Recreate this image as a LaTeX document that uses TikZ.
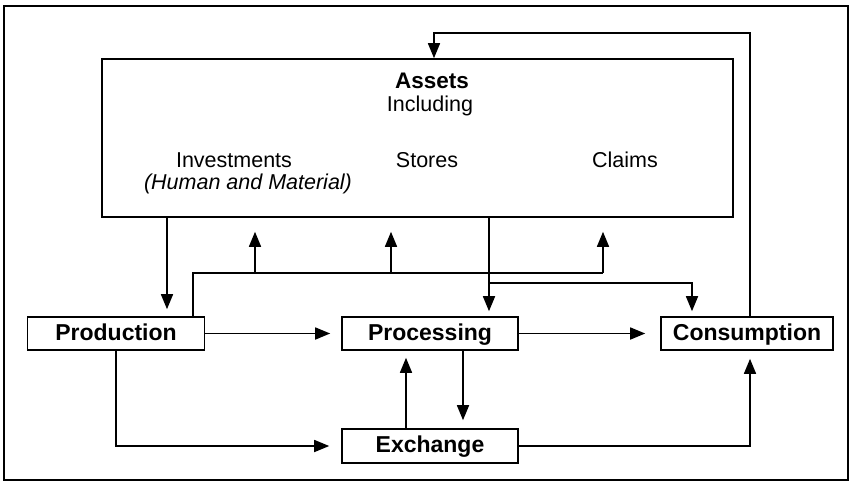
\documentclass[tikz,border=0pt]{standalone}
\usepackage{fontspec}
\setmainfont{Liberation Sans}
\usetikzlibrary{arrows.meta}
\begin{document}
\begin{tikzpicture}[x=1pt,y=-1pt,
  line width=1.6pt,
  box/.style={draw, line width=1.6pt, minimum height=33pt, inner sep=0pt,
    text height=13pt, text depth=0pt, font=\fontsize{23}{26}\selectfont\bfseries},
  lbl/.style={inner sep=0pt, anchor=base, font=\fontsize{21.5}{24}\selectfont},
  arr/.style={-{Triangle[length=15pt,width=12pt]}}]
\useasboundingbox (0,0) rectangle (851,485);
\node[draw, line width=1.6pt, minimum width=844pt, minimum height=474pt, inner sep=0pt] (frame) at (426,243) {};
\node[draw, line width=1.6pt, minimum width=631pt, minimum height=158pt, inner sep=0pt] (assets) at (417.5,138) {};
\node[lbl, font=\fontsize{22.5}{24}\selectfont\bfseries] (tassets) at (432,88) {Assets};
\node[lbl] (tincl) at (430,111) {Including};
\node[lbl] (tinv) at (234,167) {Investments};
\node[lbl, font=\fontsize{21.5}{24}\selectfont\itshape] (thum) at (248,189) {(Human and Material)};
\node[lbl] (tsto) at (427,167) {Stores};
\node[lbl] (tcla) at (625,167) {Claims};

\node[box, minimum width=177pt] (prod) at (116,333.5) {Production};
\node[box, minimum width=176pt] (proc) at (430,333.5) {Processing};
\node[box, minimum width=172pt] (cons) at (747,333.5) {Consumption};
\node[box, minimum width=176pt, minimum height=34pt] (exch) at (430,446) {Exchange};

\coordinate (fb1) at (750,33);
\coordinate (fb2) at (434,33);
\coordinate (j1) at (193,273);
\coordinate (j2) at (603,273);
\coordinate (k1) at (489,283);
\coordinate (k2) at (692,283);

% feedback from consumption to assets
\draw[arr] (750,0 |- cons.north) -- (fb1) -- (fb2) -- (434,0 |- assets.north);
% assets -> production
\draw[arr, shorten >=7pt] (167,0 |- assets.south) -- (167,0 |- prod.north);
% production -> assets (three up arrows)
\draw (193,0 |- prod.north) -- (j1) -- (j2);
\draw[arr, shorten >=14pt] (255,273) -- (255,0 |- assets.south);
\draw[arr, shorten >=14pt] (391,273) -- (391,0 |- assets.south);
\draw[arr, shorten >=14pt] (j2) -- (603,0 |- assets.south);
% assets -> processing and consumption
\draw[arr, shorten >=5pt] (489,0 |- assets.south) -- (489,0 |- proc.north);
\draw[arr, shorten >=5pt] (k1) -- (k2) -- (692,0 |- cons.north);
% horizontal flows
\draw[arr, shorten >=11pt] (prod.east) -- (proc.west);
\draw[arr, shorten >=15pt] (proc.east) -- (cons.west);
% production -> exchange
\draw[arr, shorten >=12pt] (116,0 |- prod.south) -- (116,0 |- exch.west) -- (exch.west);
% processing <-> exchange
\draw[arr, shorten >=8pt] (463,0 |- proc.south) -- (463,0 |- exch.north);
\draw[arr, shorten >=7pt] (406,0 |- exch.north) -- (406,0 |- proc.south);
% exchange -> consumption
\draw[arr, shorten >=8pt] (exch.east) -- (750,0 |- exch.east) -- (750,0 |- cons.south);
\end{tikzpicture}
\end{document}
